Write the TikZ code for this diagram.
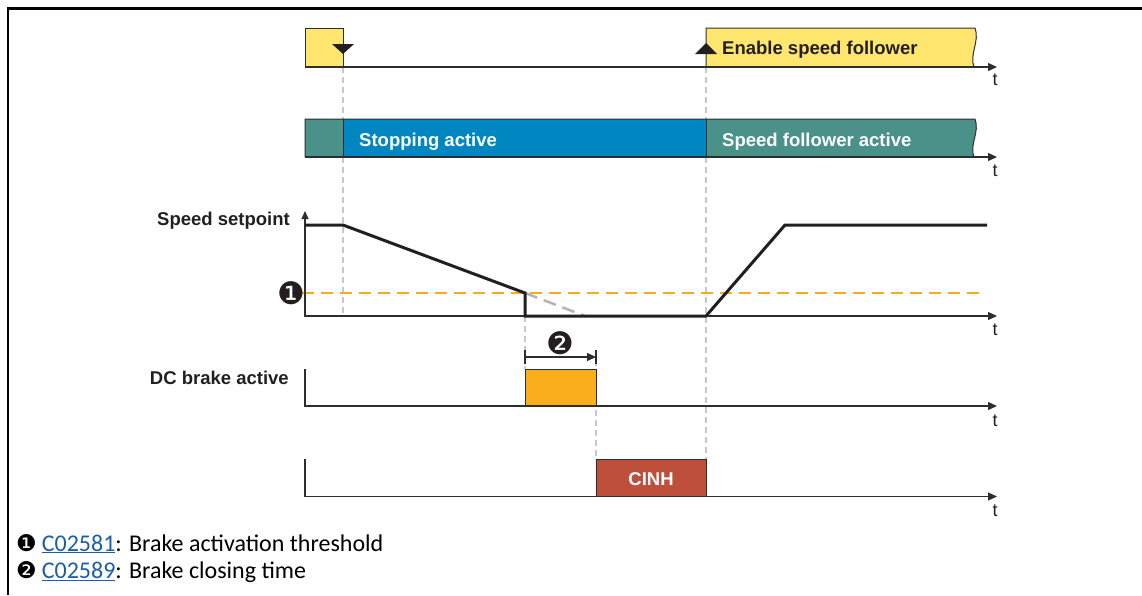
\documentclass[tikz,border=0pt]{standalone}
\usepackage{fontspec}
\setmainfont{Liberation Sans}
\newfontfamily\dingfont{DejaVu Sans}
\newfontfamily\notefont{Carlito}
\usetikzlibrary{arrows.meta}
\definecolor{sigyellow}{HTML}{FFE66E}
\definecolor{sigteal}{HTML}{4A918A}
\definecolor{sigblue}{HTML}{0086C0}
\definecolor{sigorange}{HTML}{F8AF1B}
\definecolor{sigred}{HTML}{BE4F3A}
\definecolor{throrange}{HTML}{F6AA22}
\definecolor{guidegray}{HTML}{C8C8C8}
\definecolor{slopegray}{HTML}{B4B4B4}
\definecolor{linkblue}{HTML}{1B5EA6}
\definecolor{edgecol}{HTML}{2E2E2E}
\definecolor{inkcol}{HTML}{231F20}
\begin{document}
\begin{tikzpicture}[x=1pt,y=-1pt,
  tip/.style={-{Triangle[length=9pt,width=8pt]}},
  axisline/.style={line width=1.3pt, draw=edgecol},
  guide/.style={draw=guidegray, line width=1.3pt, dash pattern=on 6pt off 4pt},
  sigbox/.style={draw=edgecol, line width=1pt},
  lbl/.style={font=\fontsize{18.5}{20}\selectfont\bfseries, inner sep=0pt, text=inkcol},
  wlbl/.style={font=\fontsize{18.5}{20}\selectfont\bfseries, inner sep=0pt, text=white},
  tlbl/.style={font=\fontsize{18}{20}\selectfont, inner sep=0pt, text=inkcol, anchor=base},
  ding/.style={font=\dingfont\fontsize{31}{31}\selectfont, inner sep=0pt, text=inkcol},
  note/.style={font=\notefont\fontsize{24}{28}\selectfont, inner sep=0pt, anchor=base west, text=black},
  curve/.style={line width=3pt, draw=inkcol},
  marker/.style={fill=inkcol}
]
\useasboundingbox (0,0) rectangle (1142,595);
% frame
\draw[line width=2.2pt, black] (8,595) -- (8,8.5) -- (1142,8.5);

% guide lines
\draw[guide] (343,67) -- (343,316);
\draw[guide] (706,67) -- (706,459);
\draw[guide] (525,316) -- (525,369);
\draw[guide] (596,350) -- (596,459);

% ---------- Row 1: enable speed follower
\draw[sigbox, fill=sigyellow] (305,67) -- (305,28) -- (343,28) -- (343,67);
\fill[sigyellow] (706,67) -- (706,28) -- (975,28) .. controls (980,41) and (969,55) .. (974,67) -- cycle;
\draw[sigbox] (706,67) -- (706,28) -- (975,28) .. controls (980,41) and (969,55) .. (974,67);
\fill[marker] (332,44) -- (354,44) -- (343,54) -- cycle;
\fill[marker] (695,54) -- (717,54) -- (706,43) -- cycle;
\node[lbl, anchor=base west] (enable) at (722,54.5) {Enable speed follower};
\coordinate (a1s) at (305,67);
\coordinate (a1e) at (997,67);
\draw[axisline, tip] (a1s) -- (a1e);
\node[tlbl] (tA) at (995,85) {t};

% ---------- Row 2: states
\fill[sigteal] (305,119) rectangle (343,157);
\fill[sigblue] (343,119) rectangle (706,157);
\fill[sigteal] (706,157) -- (706,119) -- (975,119) .. controls (980,132) and (969,145) .. (974,157) -- cycle;
\draw[sigbox] (305,157) -- (305,119) -- (975,119) .. controls (980,132) and (969,145) .. (974,157);
\draw[sigbox] (343,119) -- (343,157);
\draw[sigbox] (706,119) -- (706,157);
\node[wlbl, anchor=base west] (stopping) at (359,146.5) {Stopping active};
\node[wlbl, anchor=base west] (follower) at (722,146.5) {Speed follower active};
\coordinate (a2s) at (305,157);
\coordinate (a2e) at (997,157);
\draw[axisline, tip] (a2s) -- (a2e);
\node[tlbl] (tB) at (995,176) {t};

% ---------- Row 3: speed setpoint
\node[lbl, anchor=base east] (sp) at (290,225) {Speed setpoint};
\draw[throrange, line width=2pt, dash pattern=on 12pt off 7pt] (302,293) -- (982,293);
\node[ding] (m1) at (291.5,293) {❶};
\draw[slopegray, line width=2.5pt, dash pattern=on 13pt off 7pt] (525,293) -- (585,316);
\coordinate (a3top) at (305,211);
\coordinate (a3o) at (305,316);
\coordinate (a3e) at (997,316);
\draw[axisline, {Triangle[length=8pt,width=7pt]}-{Triangle[length=9pt,width=8pt]}] (a3top) -- (a3o) -- (a3e);
\node[tlbl] (tC) at (995,335) {t};
\coordinate (s0) at (305,225);
\coordinate (s1) at (343,225);
\coordinate (s2) at (525,293);
\coordinate (s3) at (525,316);
\coordinate (s4) at (706,316);
\coordinate (s5) at (785,225);
\coordinate (s6) at (987,225);
\draw[curve] (s0) -- (s1) -- (s2) -- (s3) -- (s4) -- (s5) -- (s6);

% ---------- Row 4: DC brake active
\node[lbl, anchor=base east] (dc) at (289,384) {DC brake active};
\coordinate (d1) at (525,357);
\coordinate (d2) at (596,357);
\draw[axisline] (525,350) -- (525,364);
\draw[axisline] (596,350) -- (596,364);
\draw[axisline, -{Triangle[length=9pt,width=8pt]}] (d1) -- (d2);
\node[ding] (m2) at (560,343) {❷};
\draw[sigbox, fill=sigorange] (525,406) rectangle (596,369);
\coordinate (a4top) at (305,369);
\coordinate (a4o) at (305,406);
\coordinate (a4e) at (997,406);
\draw[axisline, tip] (a4top) -- (a4o) -- (a4e);
\node[tlbl] (tD) at (995,426.5) {t};

% ---------- Row 5: CINH
\draw[sigbox, fill=sigred] (596,496.5) rectangle (706,459);
\node[wlbl, anchor=base] (cinh) at (651,485.7) {CINH};
\coordinate (a5top) at (305,459);
\coordinate (a5o) at (305,496.5);
\coordinate (a5e) at (997,496.5);
\draw[axisline, tip] (a5top) -- (a5o) -- (a5e);
\node[tlbl] (tE) at (995,516) {t};

% ---------- footnotes
\node[note] (n1) at (16,551) {{\dingfont\fontsize{23}{23}\selectfont ❶}\hspace{5pt}\textcolor{linkblue}{\underline{C02581}}: Brake activation threshold};
\node[note] (n2) at (16,578.3) {{\dingfont\fontsize{23}{23}\selectfont ❷}\hspace{5pt}\textcolor{linkblue}{\underline{C02589}}: Brake closing time};
\end{tikzpicture}
\end{document}
